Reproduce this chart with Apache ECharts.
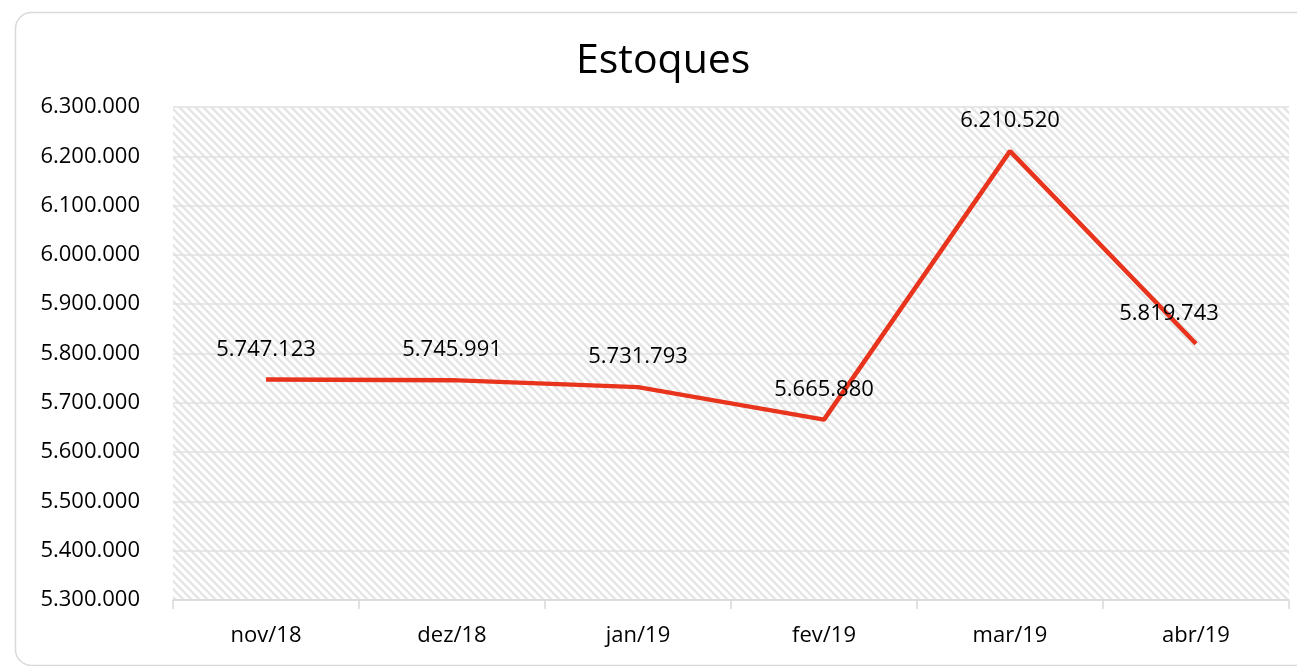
<!DOCTYPE html>
<html>
<head>
<meta charset="utf-8">
<script src="https://cdn.jsdelivr.net/npm/echarts@6/dist/echarts.min.js"></script>
<style>
  html, body { margin: 0; padding: 0; background: #fff; }
  #main { width: 1297px; height: 666px; }
</style>
</head>
<body>
<div id="main"></div>
<script>
  var categories = ['nov/18', 'dez/18', 'jan/19', 'fev/19', 'mar/19', 'abr/19'];
  var estoques = [5747123, 5745991, 5731793, 5665880, 6210520, 5819743];
  var yMin = 5300000;
  var yMax = 6300000;
  var yStep = 100000;

  function fmt(v) {
    return String(v).replace(/\B(?=(\d{3})+(?!\d))/g, '.');
  }

  // hatch fill for plot area
  function hatch() {
    var c = document.createElement('canvas');
    c.width = 8; c.height = 8;
    var ctx = c.getContext('2d');
    ctx.fillStyle = '#ffffff';
    ctx.fillRect(0, 0, 8, 8);
    ctx.strokeStyle = '#e5e5e5';
    ctx.lineWidth = 2.4;
    ctx.beginPath();
    ctx.moveTo(-2, -2); ctx.lineTo(10, 10);
    ctx.moveTo(-2, 6); ctx.lineTo(2, 10);
    ctx.moveTo(6, -2); ctx.lineTo(10, 2);
    ctx.stroke();
    return c;
  }

  var font = '"Open Sans", "Noto Sans", sans-serif';

  // Excel nudges the last label inward so it stays inside the plot
  var seriesData = estoques.map(function (v, i) {
    if (i === estoques.length - 1) {
      return { value: v, label: { offset: [-27, 0] } };
    }
    return v;
  });

  var chart = echarts.init(document.getElementById('main'));
  chart.setOption({
    backgroundColor: '#fff',
    animation: false,
    title: {
      text: 'Estoques',
      left: 571,
      top: 36,
      textStyle: { fontFamily: font, fontSize: 41, fontWeight: 'normal', color: '#000' }
    },
    graphic: [{
      type: 'rect',
      left: 13, top: 10,
      shape: { width: 1300, height: 653, r: 16 },
      style: { fill: 'none', stroke: '#d9d9d9', lineWidth: 1.5 },
      z: -1
    }],
    grid: {
      left: 173, right: 8, top: 107, bottom: 66,
      show: true,
      borderWidth: 0,
      backgroundColor: { image: hatch(), repeat: 'repeat' }
    },
    xAxis: {
      type: 'category',
      data: categories,
      boundaryGap: true,
      axisLine: { lineStyle: { color: '#d9d9d9', width: 1.5 } },
      axisTick: { show: true, length: 9, lineStyle: { color: '#d9d9d9', width: 1.5 } },
      axisLabel: { color: '#000', fontFamily: font, fontSize: 22, margin: 25 }
    },
    yAxis: {
      type: 'value',
      min: yMin, max: yMax, interval: yStep,
      axisLine: { show: false },
      axisTick: { show: false },
      splitLine: { lineStyle: { color: '#e0e0e0', width: 1.5 } },
      axisLabel: {
        color: '#000', fontFamily: font, fontSize: 22, margin: 33,
        formatter: function (v) { return fmt(v); }
      }
    },
    series: [{
      type: 'line',
      data: seriesData,
      symbol: 'circle',
      symbolSize: 2,
      showSymbol: true,
      itemStyle: { color: 'rgba(0,0,0,0)', borderWidth: 0 },
      lineStyle: { color: '#e8341c', width: 4.5 },
      label: {
        show: true, position: 'top', distance: 18,
        color: '#000', fontFamily: font, fontSize: 22,
        formatter: function (p) { return fmt(p.value); }
      },
      z: 3
    }]
  });
</script>
</body>
</html>
